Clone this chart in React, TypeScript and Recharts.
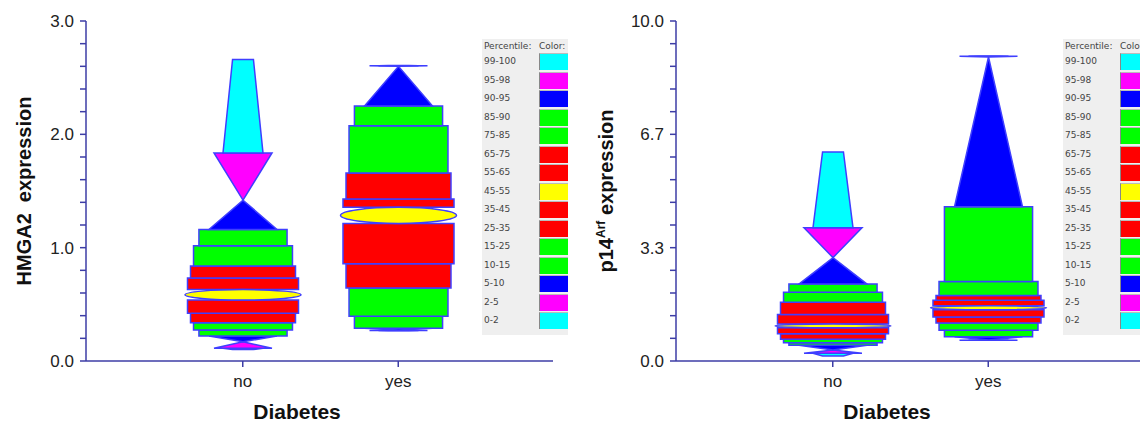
import { Bar, BarChart, Label, Legend, XAxis, YAxis } from "recharts";

// percentile cut points, bottom to top: P0, P2, P5, P10, P15, P25, P35, P45, P55, P65, P75, P85, P90, P95, P98, P100
const groups = ["no", "yes"];
const bandLabels = ["0-2", "2-5", "5-10", "10-15", "15-25", "25-35", "35-45", "45-55", "55-65", "65-75", "75-85", "85-90", "90-95", "95-98", "99-100"];
const bandColors = ["#00ffff", "#ff00ff", "#0000ff", "#00ff00", "#00ff00", "#ff0000", "#ff0000", "#ffff00", "#ff0000", "#ff0000", "#00ff00", "#00ff00", "#0000ff", "#ff00ff", "#00ffff"];

const hmga2No = [0.101, 0.112, 0.17, 0.22, 0.273, 0.337, 0.421, 0.538, 0.63, 0.733, 0.839, 1.018, 1.161, 1.419, 1.836, 2.66];
const hmga2Yes = [0.266, 0.269, 0.273, 0.288, 0.394, 0.645, 0.858, 1.214, 1.356, 1.43, 1.658, 2.076, 2.251, 2.6, 2.605, 2.607];
const p14No = [0.147, 0.226, 0.323, 0.461, 0.538, 0.641, 0.802, 0.976, 1.087, 1.366, 1.728, 2.022, 2.263, 3.041, 3.917, 6.15];
const p14Yes = [0.61, 0.612, 0.617, 0.714, 0.902, 1.117, 1.293, 1.507, 1.625, 1.784, 1.925, 2.336, 4.534, 8.94, 8.96, 8.97];

const hmga2Ticks = [0, 0.2, 0.4, 0.6, 0.8, 1, 1.2, 1.4, 1.6, 1.8, 2, 2.2, 2.4, 2.6, 2.8, 3];
const p14Ticks = [0, 0.667, 1.333, 2, 2.667, 3.333, 4, 4.667, 5.333, 6, 6.667, 7.333, 8, 8.667, 9.333, 10];

// band outline: width fraction at lower and upper edge of each band
const bandShape = [
  { kind: "poly", lower: 0.18, upper: 0.345 },
  { kind: "poly", lower: 0.5, upper: 0 },
  { kind: "poly", lower: 0, upper: 0.586 },
  { kind: "poly", lower: 0.76, upper: 0.76 },
  { kind: "poly", lower: 0.853, upper: 0.853 },
  { kind: "poly", lower: 0.905, upper: 0.905 },
  { kind: "poly", lower: 0.957, upper: 0.957 },
  { kind: "ellipse", lower: 1, upper: 1 },
  { kind: "poly", lower: 0.957, upper: 0.957 },
  { kind: "poly", lower: 0.905, upper: 0.905 },
  { kind: "poly", lower: 0.853, upper: 0.853 },
  { kind: "poly", lower: 0.76, upper: 0.76 },
  { kind: "poly", lower: 0.586, upper: 0 },
  { kind: "poly", lower: 0, upper: 0.5 },
  { kind: "poly", lower: 0.345, upper: 0.18 },
];

const AXIS = "#3d3da6";
const OUTLINE = "#3f3fff";

function PercentileShape(props: any) {
  const { x, y, width, height, payload } = props;
  const vals: number[] = payload.values;
  const top = Math.min(y, y + height);
  const bottom = Math.max(y, y + height);
  const lo = vals[0];
  const hi = vals[vals.length - 1];
  const py = (v: number) => bottom - ((v - lo) / (hi - lo)) * (bottom - top);
  const cx = x + width / 2;

  const polys = [];
  let median = null;
  bandShape.forEach((s, i) => {
    const yb = py(vals[i]);
    const yt = py(vals[i + 1]);
    if (s.kind === "ellipse") {
      median = (
        <ellipse
          key={i}
          cx={cx}
          cy={(yb + yt) / 2}
          rx={(width * s.lower) / 2}
          ry={Math.max((yb - yt) / 2, 1)}
          fill={bandColors[i]}
          stroke={OUTLINE}
          strokeWidth={1.5}
        />
      );
      return;
    }
    const hb = (width * s.lower) / 2;
    const ht = (width * s.upper) / 2;
    polys.push(
      <polygon
        key={i}
        points={`${cx - hb},${yb} ${cx + hb},${yb} ${cx + ht},${yt} ${cx - ht},${yt}`}
        fill={bandColors[i]}
        stroke={OUTLINE}
        strokeWidth={1.5}
        strokeLinejoin="miter"
      />
    );
  });
  return (
    <g>
      {polys}
      {median}
    </g>
  );
}

function PercentileLegend() {
  const rows = bandLabels.map((l, i) => ({ label: l, color: bandColors[i] })).reverse();
  return (
    <div
      style={{
        position: "relative",
        width: 86,
        height: 296,
        background: "#efefef",
        fontFamily: "'DejaVu Sans', Verdana, sans-serif",
        fontSize: 9,
        color: "#444",
      }}
    >
      <div style={{ position: "absolute", left: 2, top: 1, lineHeight: "12px" }}>Percentile:</div>
      <div style={{ position: "absolute", left: 57, top: 1, lineHeight: "12px" }}>Color:</div>
      {rows.map((r, i) => (
        <div key={r.label}>
          <div style={{ position: "absolute", left: 2, top: 14 + i * 18.5, lineHeight: "17px" }}>{r.label}</div>
          <div
            style={{
              position: "absolute",
              left: 57,
              top: 14 + i * 18.5,
              width: 29,
              height: 17,
              boxSizing: "border-box",
              background: r.color,
              borderLeft: "1px solid #888",
              borderTop: "1px solid #bbb",
            }}
          />
        </div>
      ))}
    </div>
  );
}

function Panel({
  data,
  ticks,
  domain,
  yTitle,
  titleX,
  legendLeft,
}: {
  data: { group: string; values: number[] }[];
  ticks: number[];
  domain: [number, number];
  yTitle: React.ReactNode;
  titleX: number;
  legendLeft: number;
}) {
  return (
    <BarChart width={590} height={423} data={data} margin={{ top: 21, right: 37, bottom: 0, left: 0 }}>
      <XAxis
        dataKey="group"
        height={62}
        padding={{ left: 79, right: 77 }}
        axisLine={{ stroke: AXIS, strokeWidth: 1.5 }}
        tickLine={{ stroke: AXIS, strokeWidth: 1.5 }}
        tickSize={6}
        tickMargin={8}
        tick={{ fill: "#222", fontSize: 17, fontFamily: "Arial, 'Liberation Sans', sans-serif" }}
      >
        <Label
          content={() => (
            <text
              x={297}
              y={419}
              textAnchor="middle"
              fill="#111"
              fontSize={21}
              fontWeight="bold"
              fontFamily="Arial, 'Liberation Sans', sans-serif"
            >
              Diabetes
            </text>
          )}
        />
      </XAxis>
      <YAxis
        type="number"
        width={86}
        domain={domain}
        ticks={ticks}
        interval={0}
        axisLine={{ stroke: AXIS, strokeWidth: 1.5 }}
        tickLine={{ stroke: AXIS, strokeWidth: 1.5 }}
        tickSize={6}
        tickMargin={6}
        tick={{ fill: "#222", fontSize: 17, fontFamily: "Arial, 'Liberation Sans', sans-serif" }}
        tickFormatter={(v: number, i: number) => (i % 5 === 0 ? v.toFixed(1) : "")}
      >
        <Label
          content={() => (
            <text
              transform={`translate(${titleX}, 191) rotate(-90)`}
              textAnchor="middle"
              fill="#111"
              fontSize={20}
              fontWeight="bold"
              fontFamily="Arial, 'Liberation Sans', sans-serif"
            >
              {yTitle}
            </text>
          )}
        />
      </YAxis>
      <Legend
        layout="vertical"
        align="center"
        verticalAlign="middle"
        content={() => <PercentileLegend />}
        wrapperStyle={{ left: legendLeft, top: 39, width: 86, height: 296 }}
      />
      <Bar
        dataKey={(d: { values: number[] }) => [d.values[0], d.values[d.values.length - 1]]}
        barSize={116}
        shape={PercentileShape}
        isAnimationActive={false}
      />
    </BarChart>
  );
}

const hmga2Data = [
  { group: groups[0], values: hmga2No },
  { group: groups[1], values: hmga2Yes },
];
const p14Data = [
  { group: groups[0], values: p14No },
  { group: groups[1], values: p14Yes },
];

export default function App() {
  return (
    <div
      style={{
        position: "absolute",
        left: 0,
        top: 0,
        width: 1140,
        height: 423,
        overflow: "hidden",
        background: "#fff",
      }}
    >
      <div style={{ position: "absolute", left: 0, top: 0 }}>
        <Panel
          data={hmga2Data}
          ticks={hmga2Ticks}
          domain={[0, 3]}
          yTitle={"HMGA2\u00a0 expression"}
          titleX={31}
          legendLeft={482}
        />
      </div>
      <div style={{ position: "absolute", left: 590, top: 0 }}>
        <Panel
          data={p14Data}
          ticks={p14Ticks}
          domain={[0, 10]}
          yTitle={
            <>
              <tspan>p14</tspan>
              <tspan dy={-8} fontSize={12}>
                Arf
              </tspan>
              <tspan dy={8}> expression</tspan>
            </>
          }
          titleX={23}
          legendLeft={473}
        />
      </div>
    </div>
  );
}
